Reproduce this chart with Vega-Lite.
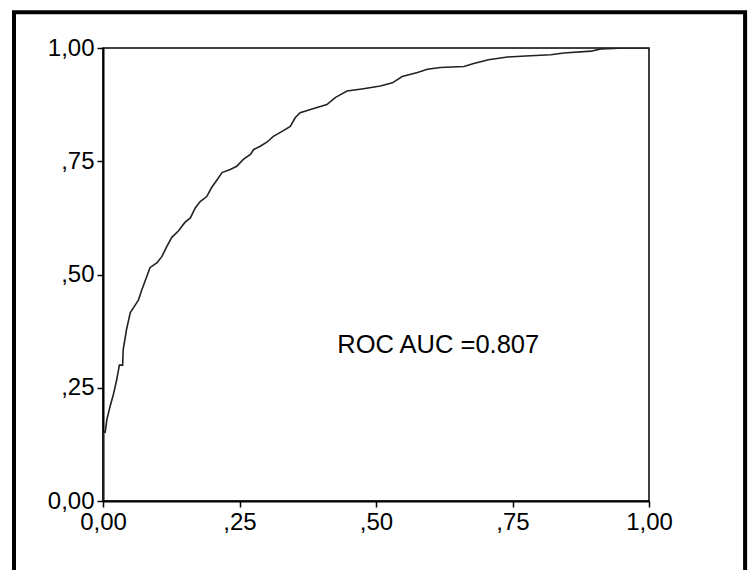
{
  "$schema": "https://vega.github.io/schema/vega-lite/v6.json",
  "autosize": {"type": "none"},
  "padding": {"left": 103, "top": 48, "right": 100, "bottom": 69},
  "width": 546,
  "height": 453,
  "background": "white",
  "config": {
    "view": {"stroke": "black", "strokeWidth": 1.5},
    "axis": {
      "domainColor": "black", "domainWidth": 2, "tickColor": "black", "tickWidth": 1.5, "tickSize": 6,
      "labelColor": "black", "labelFont": "Liberation Sans", "labelFontSize": 24, "labelFlush": false,
      "labelOverlap": false, "grid": false, "title": null
    }
  },
  "datasets": {
    "roc": [
      {"i": 0, "fpr": 0.0, "tpr": 0.0},
      {"i": 1, "fpr": 0.0, "tpr": 0.152},
      {"i": 2, "fpr": 0.004, "tpr": 0.152},
      {"i": 3, "fpr": 0.007, "tpr": 0.179},
      {"i": 4, "fpr": 0.013, "tpr": 0.209},
      {"i": 5, "fpr": 0.019, "tpr": 0.235},
      {"i": 6, "fpr": 0.025, "tpr": 0.267},
      {"i": 7, "fpr": 0.030, "tpr": 0.300},
      {"i": 8, "fpr": 0.036, "tpr": 0.300},
      {"i": 9, "fpr": 0.037, "tpr": 0.334},
      {"i": 10, "fpr": 0.043, "tpr": 0.378},
      {"i": 11, "fpr": 0.050, "tpr": 0.416},
      {"i": 12, "fpr": 0.056, "tpr": 0.427},
      {"i": 13, "fpr": 0.065, "tpr": 0.444},
      {"i": 14, "fpr": 0.071, "tpr": 0.466},
      {"i": 15, "fpr": 0.080, "tpr": 0.495},
      {"i": 16, "fpr": 0.086, "tpr": 0.515},
      {"i": 17, "fpr": 0.099, "tpr": 0.526},
      {"i": 18, "fpr": 0.108, "tpr": 0.540},
      {"i": 19, "fpr": 0.117, "tpr": 0.562},
      {"i": 20, "fpr": 0.126, "tpr": 0.582},
      {"i": 21, "fpr": 0.138, "tpr": 0.596},
      {"i": 22, "fpr": 0.150, "tpr": 0.615},
      {"i": 23, "fpr": 0.160, "tpr": 0.625},
      {"i": 24, "fpr": 0.169, "tpr": 0.647},
      {"i": 25, "fpr": 0.178, "tpr": 0.661},
      {"i": 26, "fpr": 0.190, "tpr": 0.672},
      {"i": 27, "fpr": 0.199, "tpr": 0.692},
      {"i": 28, "fpr": 0.209, "tpr": 0.709},
      {"i": 29, "fpr": 0.218, "tpr": 0.725},
      {"i": 30, "fpr": 0.233, "tpr": 0.732},
      {"i": 31, "fpr": 0.245, "tpr": 0.739},
      {"i": 32, "fpr": 0.257, "tpr": 0.754},
      {"i": 33, "fpr": 0.270, "tpr": 0.765},
      {"i": 34, "fpr": 0.276, "tpr": 0.776},
      {"i": 35, "fpr": 0.288, "tpr": 0.783},
      {"i": 36, "fpr": 0.300, "tpr": 0.792},
      {"i": 37, "fpr": 0.312, "tpr": 0.805},
      {"i": 38, "fpr": 0.328, "tpr": 0.816},
      {"i": 39, "fpr": 0.343, "tpr": 0.827},
      {"i": 40, "fpr": 0.352, "tpr": 0.846},
      {"i": 41, "fpr": 0.361, "tpr": 0.857},
      {"i": 42, "fpr": 0.380, "tpr": 0.864},
      {"i": 43, "fpr": 0.398, "tpr": 0.871},
      {"i": 44, "fpr": 0.410, "tpr": 0.875},
      {"i": 45, "fpr": 0.426, "tpr": 0.891},
      {"i": 46, "fpr": 0.435, "tpr": 0.897},
      {"i": 47, "fpr": 0.447, "tpr": 0.905},
      {"i": 48, "fpr": 0.477, "tpr": 0.910},
      {"i": 49, "fpr": 0.508, "tpr": 0.916},
      {"i": 50, "fpr": 0.530, "tpr": 0.923},
      {"i": 51, "fpr": 0.548, "tpr": 0.937},
      {"i": 52, "fpr": 0.576, "tpr": 0.946},
      {"i": 53, "fpr": 0.594, "tpr": 0.953},
      {"i": 54, "fpr": 0.618, "tpr": 0.957},
      {"i": 55, "fpr": 0.661, "tpr": 0.959},
      {"i": 56, "fpr": 0.679, "tpr": 0.966},
      {"i": 57, "fpr": 0.706, "tpr": 0.974},
      {"i": 58, "fpr": 0.741, "tpr": 0.980},
      {"i": 59, "fpr": 0.783, "tpr": 0.983},
      {"i": 60, "fpr": 0.820, "tpr": 0.985},
      {"i": 61, "fpr": 0.844, "tpr": 0.989},
      {"i": 62, "fpr": 0.894, "tpr": 0.993},
      {"i": 63, "fpr": 0.912, "tpr": 0.998},
      {"i": 64, "fpr": 0.936, "tpr": 0.999},
      {"i": 65, "fpr": 0.949, "tpr": 1.0},
      {"i": 66, "fpr": 1.0, "tpr": 1.0}
    ],
    "note": [{"label": "ROC AUC =0.807"}]
  },
  "layer": [
    {
      "data": {"name": "roc"},
      "mark": {"type": "line", "color": "#222222", "strokeWidth": 1.6, "clip": true},
      "encoding": {
        "x": {
          "field": "fpr", "type": "quantitative",
          "scale": {"domain": [0, 1], "nice": false, "zero": false},
          "axis": {"values": [0, 0.25, 0.5, 0.75, 1], "labelPadding": 3,
            "labelExpr": "datum.value == 0 ? '0,00' : datum.value == 1 ? '1,00' : datum.value == 0.25 ? ',25' : datum.value == 0.5 ? ',50' : ',75'"}
        },
        "y": {
          "field": "tpr", "type": "quantitative",
          "scale": {"domain": [0, 1], "nice": false, "zero": false},
          "axis": {"values": [0, 0.25, 0.5, 0.75, 1], "labelPadding": 3,
            "labelExpr": "datum.value == 0 ? '0,00' : datum.value == 1 ? '1,00' : datum.value == 0.25 ? ',25' : datum.value == 0.5 ? ',50' : ',75'"}
        },
        "order": {"field": "i", "type": "quantitative"}
      }
    },
    {
      "data": {"name": "note"},
      "mark": {"type": "text", "align": "left", "baseline": "middle", "font": "Liberation Sans", "fontSize": 25.5, "color": "black"},
      "encoding": {
        "x": {"datum": 0.429, "type": "quantitative"},
        "y": {"datum": 0.344, "type": "quantitative"},
        "text": {"field": "label"}
      }
    },
    {
      "data": {"name": "note"},
      "mark": {"type": "rect", "fillOpacity": 0, "stroke": "black", "strokeWidth": 4, "clip": false},
      "encoding": {
        "x": {"datum": -0.163, "type": "quantitative"},
        "x2": {"datum": 1.176},
        "y": {"datum": 1.079, "type": "quantitative"},
        "y2": {"datum": -0.25}
      }
    }
  ]
}
